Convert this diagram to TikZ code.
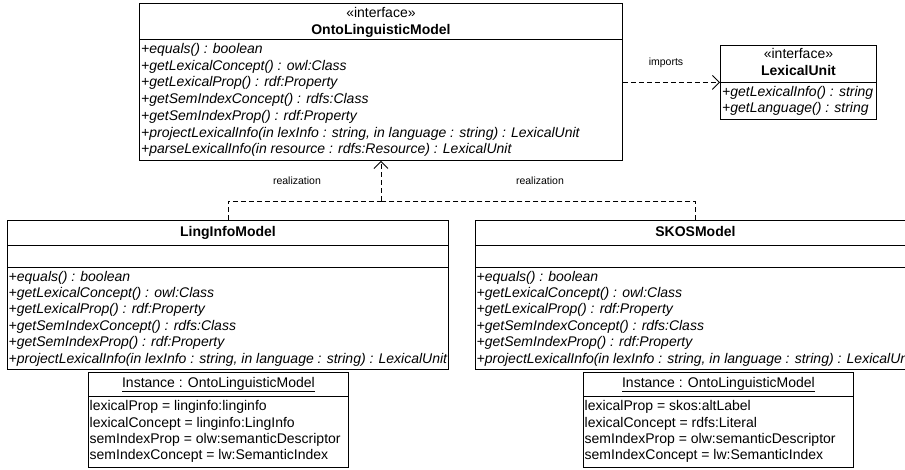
\documentclass[tikz,border=0pt]{standalone}
\usepackage{fontspec}
\setmainfont{Liberation Sans}
\usetikzlibrary{arrows.meta}
\begin{document}
\begin{tikzpicture}[x=1pt,y=-1pt,
 umlbox/.style={draw, line width=0.9pt, inner sep=0pt, anchor=north west},
 txt/.style={inner sep=0pt, text height=10.2pt, text depth=3pt, font=\fontsize{14}{16}\selectfont},
 mth/.style={txt, anchor=west, font=\fontsize{14}{16}\selectfont\itshape},
 attr/.style={txt, anchor=west},
 ttl/.style={txt, font=\fontsize{14}{16}\selectfont\bfseries},
 lbl/.style={inner sep=0pt, font=\fontsize{10.5}{12}\selectfont},
 sepline/.style={line width=0.9pt},
 dep/.style={dash pattern=on 5pt off 3pt, line width=0.9pt},
 opn/.style={-{Straight Barb[length=7pt,width=14pt,line width=0.9pt]}},
]
\useasboundingbox (0,0) rectangle (905,470);
\clip (0,0) rectangle (905,470);

% ---------- OntoLinguisticModel ----------
\node[umlbox, minimum width=483pt, minimum height=157pt] (onto) at (139,3) {};
\node[txt] (onto-st) at ([yshift=-10.5pt]onto.north) {«interface»};
\node[ttl] (onto-nm) at ([yshift=-28pt]onto.north) {OntoLinguisticModel};
\draw[sepline] (onto.west |- 0,39) -- (onto.east |- 0,39);
\foreach \t [count=\i] in {{+equals() : boolean},{+getLexicalConcept() : owl:Class},{+getLexicalProp() : rdf:Property},{+getSemIndexConcept() : rdfs:Class},{+getSemIndexProp() : rdf:Property},{+projectLexicalInfo(in lexInfo : string, in language : string) : LexicalUnit},{+parseLexicalInfo(in resource : rdfs:Resource) : LexicalUnit}}
  \node[mth] (onto-m\i) at (141,{50+16.7*(\i-1)}) {\t};

% ---------- LexicalUnit ----------
\node[umlbox, minimum width=156pt, minimum height=74pt] (lexu) at (720,45) {};
\node[txt] (lexu-st) at ([yshift=-9.5pt]lexu.north) {«interface»};
\node[ttl] (lexu-nm) at ([yshift=-27pt]lexu.north) {LexicalUnit};
\draw[sepline] (lexu.west |- 0,82.5) -- (lexu.east |- 0,82.5);
\node[mth] (lexu-m1) at (722,92.5) {+getLexicalInfo() : string};
\node[mth] (lexu-m2) at (722,109) {+getLanguage() : string};

% ---------- LingInfoModel ----------
\node[umlbox, minimum width=441pt, minimum height=149pt] (ling) at (7,220) {};
\node[ttl] (ling-nm) at ([yshift=-12.5pt]ling.north) {LingInfoModel};
\draw[sepline] (ling.west |- 0,245) -- (ling.east |- 0,245);
\draw[sepline] (ling.west |- 0,267) -- (ling.east |- 0,267);
\foreach \t [count=\i] in {{+equals() : boolean},{+getLexicalConcept() : owl:Class},{+getLexicalProp() : rdf:Property},{+getSemIndexConcept() : rdfs:Class},{+getSemIndexProp() : rdf:Property},{+projectLexicalInfo(in lexInfo : string, in language : string) : LexicalUnit}}
  \node[mth] (ling-m\i) at (8.5,{277.5+16.4*(\i-1)}) {\t};

% ---------- SKOSModel ----------
\node[umlbox, minimum width=440pt, minimum height=149pt] (skos) at (475,220) {};
\node[ttl] (skos-nm) at ([yshift=-12.5pt]skos.north) {SKOSModel};
\draw[sepline] (skos.west |- 0,245) -- (skos.east |- 0,245);
\draw[sepline] (skos.west |- 0,267) -- (skos.east |- 0,267);
\foreach \t [count=\i] in {{+equals() : boolean},{+getLexicalConcept() : owl:Class},{+getLexicalProp() : rdf:Property},{+getSemIndexConcept() : rdfs:Class},{+getSemIndexProp() : rdf:Property},{+projectLexicalInfo(in lexInfo : string, in language : string) : LexicalUnit}}
  \node[mth] (skos-m\i) at (476.5,{277.5+16.4*(\i-1)}) {\t};

% ---------- Instances ----------
\node[umlbox, minimum width=260pt, minimum height=95pt] (inst1) at (88,372) {};
\node[txt] (inst1-nm) at ([yshift=-11.5pt]inst1.north) {\underline{Instance : OntoLinguisticModel}};
\draw[sepline] (inst1.west |- 0,396) -- (inst1.east |- 0,396);
\foreach \t [count=\i] in {{lexicalProp = linginfo:linginfo},{lexicalConcept = linginfo:LingInfo},{semIndexProp = olw:semanticDescriptor},{semIndexConcept = lw:SemanticIndex}}
  \node[attr] (inst1-a\i) at (89.5,{407+16.4*(\i-1)}) {\t};

\node[umlbox, minimum width=270pt, minimum height=95pt] (inst2) at (583,372) {};
\node[txt] (inst2-nm) at ([yshift=-11.5pt]inst2.north) {\underline{Instance : OntoLinguisticModel}};
\draw[sepline] (inst2.west |- 0,396) -- (inst2.east |- 0,396);
\foreach \t [count=\i] in {{lexicalProp = skos:altLabel},{lexicalConcept = rdfs:Literal},{semIndexProp = olw:semanticDescriptor},{semIndexConcept = lw:SemanticIndex}}
  \node[attr] (inst2-a\i) at (584.5,{407+16.4*(\i-1)}) {\t};

% ---------- Connectors ----------
\draw[dep, opn] (onto.east |- lexu.west) -- (lexu.west);
\node[lbl] (imp) at (666,63) {imports};

\coordinate (join) at (onto.north |- 0,201);
\draw[dep, opn] (join) -- (onto.south);
\draw[dep] (ling.north) |- (join);
\draw[dep] (skos.north) |- (join);
\node[lbl] (real1) at (297,181) {realization};
\node[lbl] (real2) at (540,181) {realization};
\end{tikzpicture}
\end{document}
